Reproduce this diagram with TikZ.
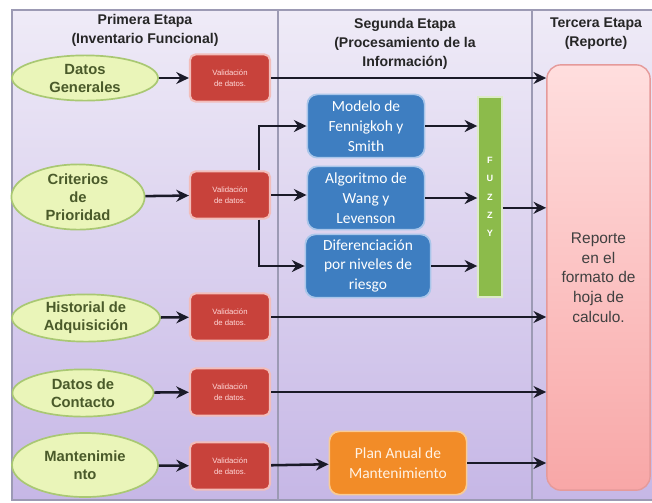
\documentclass[tikz,border=0pt]{standalone}
\usepackage{fontspec}
\setmainfont{Liberation Sans}
\newfontfamily\boxfont{Carlito}
\usetikzlibrary{shapes.geometric,arrows.meta}
\definecolor{lavtop}{HTML}{EFEBF7}
\definecolor{lavbot}{HTML}{C6B7E6}
\definecolor{framegray}{HTML}{9C9AB4}
\definecolor{elfill}{HTML}{EAF5B9}
\definecolor{eldraw}{HTML}{A9C873}
\definecolor{eltext}{HTML}{4A5A2A}
\definecolor{valfill}{HTML}{C8423B}
\definecolor{valdraw}{HTML}{F2BDBA}
\definecolor{procfill}{HTML}{3E7EC1}
\definecolor{procdraw}{HTML}{A9C6EA}
\definecolor{fzfill}{HTML}{8CBB4B}
\definecolor{planfill}{HTML}{F28C28}
\definecolor{plandraw}{HTML}{F8CB95}
\definecolor{reptop}{HTML}{FFDEDE}
\definecolor{repbot}{HTML}{F8A7A7}
\definecolor{repdraw}{HTML}{E59A9A}
\definecolor{arrowcol}{HTML}{1A1A28}
\begin{document}
\begin{tikzpicture}[x=0.025cm, y=-0.025cm, >={Stealth[length=9pt, width=8.5pt]},
  etapa/.style={align=center, font=\bfseries\fontsize{10}{13.5}\selectfont, text=black!85},
  campo/.style={ellipse, draw=eldraw, line width=1.2pt, fill=elfill, inner sep=0pt, inner ysep=-3pt,
    align=center, text=eltext, font=\bfseries\fontsize{10.5}{12.8}\selectfont},
  valid/.style={draw=valdraw, line width=1.5pt, fill=valfill, rounded corners=4pt,
    minimum width=2cm, minimum height=1.18cm, align=center, text=white!85!red,
    font=\fontsize{5.5}{8}\selectfont},
  proc/.style={draw=procdraw, line width=1.2pt, fill=procfill, rounded corners=7pt,
    minimum width=2.93cm, minimum height=1.58cm, align=center, text=white,
    font=\boxfont\fontsize{11}{14}\selectfont},
  arr/.style={->, line width=1.8pt, draw=arrowcol}]
\useasboundingbox (0,0) rectangle (652,502);
% fondo y columnas
\fill[top color=lavtop, bottom color=lavbot] (12,10) rectangle (652,500);
\draw[framegray, line width=0.8pt] (652,10) -- (12,10) -- (12,500) -- (652,500);
\draw[framegray, line width=0.8pt] (278,10) -- (278,500);
\draw[framegray, line width=0.8pt] (532,10) -- (532,500);

\node[etapa] (h1) at (145,30) {Primera Etapa\\(Inventario Funcional)};
\node[etapa] (h2) at (405,44) {Segunda Etapa\\(Procesamiento de la\\Información)};
\node[etapa] (h3) at (596,34) {Tercera Etapa\\(Reporte)};

% primera etapa
\node[campo, minimum width=3.65cm, minimum height=1.13cm] (dg) at (85,78) {Datos\\Generales};
\node[campo, minimum width=3.33cm, minimum height=1.63cm] (cp) at (78,197) {Criterios\\de\\Prioridad};
\node[campo, minimum width=3.7cm, minimum height=1.18cm] (ha) at (86,318) {Historial de\\Adquisición};
\node[campo, minimum width=3.53cm, minimum height=1.18cm] (dc) at (83,393) {Datos de\\Contacto};
\node[campo, minimum width=3.65cm, minimum height=1.6cm] (mt) at (85,465) {Mantenimie\\nto};

\node[valid] (v1) at (230,78) {Validación\\de datos.};
\node[valid] (v2) at (230,195) {Validación\\de datos.};
\node[valid] (v3) at (230,317) {Validación\\de datos.};
\node[valid] (v4) at (230,392) {Validación\\de datos.};
\node[valid] (v5) at (230,466) {Validación\\de datos.};

% segunda etapa
\node[proc] (mod) at (366,126) {Modelo de\\Fennigkoh y\\Smith};
\node[proc] (alg) at (366,198) {Algoritmo de\\Wang y\\Levenson};
\node[proc, minimum width=3.13cm] (dif) at (368,266) {Diferenciación\\por niveles de\\riesgo};
\node[draw=white!70!fzfill, line width=1pt, fill=fzfill, minimum width=0.6cm, minimum height=5cm,
  align=center, text=white, font=\bfseries\fontsize{6.5}{13}\selectfont] (fz) at (490,197) {F\\U\\Z\\Z\\Y};
\node[draw=plandraw, line width=1.2pt, fill=planfill, rounded corners=7pt, minimum width=3.43cm,
  minimum height=1.58cm, align=center, text=white!90!orange,
  font=\boxfont\fontsize{11}{14}\selectfont] (plan) at (398,463) {Plan Anual de\\Mantenimiento};

% tercera etapa
\node[draw=repdraw, line width=1pt, top color=reptop, bottom color=repbot, rounded corners=10pt,
  minimum width=2.58cm, minimum height=10.63cm, align=center, text=black!75,
  font=\fontsize{11}{14}\selectfont] (rep) at (598.5,277.5) {Reporte\\en el\\formato de\\hoja de\\calculo.};

% conectores
\draw[arr] (dg) -- (v1);
\draw[arr] (cp) -- (v2);
\draw[arr] (ha) -- (v3);
\draw[arr] (dc) -- (v4);
\draw[arr] (mt) -- (v5);

\draw[arr] (v1.east) -- (v1.east -| rep.west);
\draw[arr] ([xshift=-0.3cm]v2.north east) |- (mod.west);
\draw[arr] (v2.east) -- (v2.east -| alg.west);
\draw[arr] ([xshift=-0.3cm]v2.south east) |- (dif.west);
\draw[arr] (mod.east) -- (mod.east -| fz.west);
\draw[arr] (alg.east) -- (alg.east -| fz.west);
\draw[arr] (dif.east) -- (dif.east -| fz.west);
\draw[arr] ([yshift=-0.27cm]fz.east) -- ([yshift=-0.27cm]fz.east -| rep.west);
\draw[arr] (v3.east) -- (v3.east -| rep.west);
\draw[arr] (v4.east) -- (v4.east -| rep.west);
\draw[arr] (v5) -- (plan);
\draw[arr] (plan.east) -- (plan.east -| rep.west);
\end{tikzpicture}
\end{document}
